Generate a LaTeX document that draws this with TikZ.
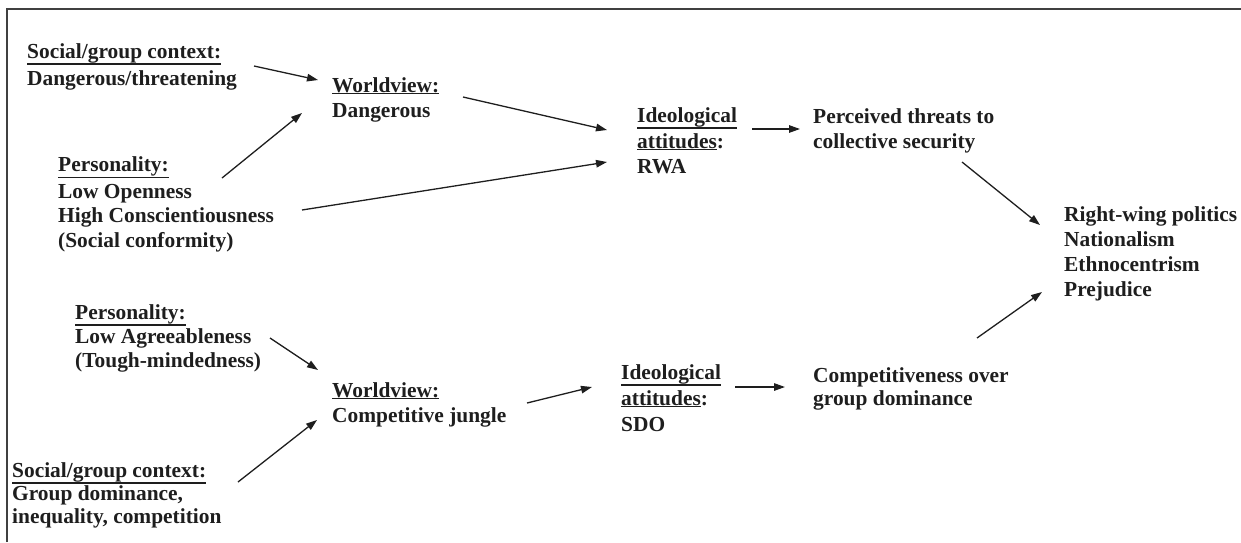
\documentclass[tikz,border=0pt]{standalone}
\usepackage{fontspec}
\setmainfont{Liberation Serif}
\usetikzlibrary{arrows.meta,calc}
\definecolor{ink}{HTML}{1E1E1E}
\newcommand\myuline[1]{\leavevmode\vtop{\hbox{#1}\kern0.6pt\hrule height 1.5pt}}
\begin{document}
\begin{tikzpicture}[x=1pt,y=-1pt,
  lbl/.style={anchor=base west,inner sep=0pt,align=left,text=ink,
    font=\fontsize{21.4}{24}\selectfont\bfseries},
  arr/.style={draw=ink,line width=1.3pt,-{Triangle[length=11pt,width=7.5pt]}},
  frame/.style={draw=ink!85,line width=1.6pt}]
\useasboundingbox (0,0) rectangle (1241,542);
\coordinate (fb) at (7,542);
\coordinate (fc) at (7,9);
\coordinate (fr) at (1241,9);
\draw[frame] (fb) -- (fc) -- (fr);

% nodes are placed at the baseline of their last line
\node[lbl] (ctxA) at (27,85) {\myuline{Social/group context:}\\[3pt]Dangerous/threatening};
\node[lbl] (perA) at (58,247) {\myuline{Personality:}\\[2.5pt]Low Openness\\[0.5pt]High Conscientiousness\\[0.5pt](Social conformity)};
\node[lbl] (wvA) at (332,117) {\myuline{Worldview:}\\[1pt]Dangerous};
\node[lbl] (ideoA) at (637,173) {\myuline{Ideological}\\[2pt]\myuline{attitudes}:\\[1pt]RWA};
\node[lbl] (perc) at (813,148) {Perceived threats to\\[1pt]collective security};
\node[lbl] (out) at (1064,296) {Right-wing politics\\[1pt]Nationalism\\[1pt]Ethnocentrism\\[1pt]Prejudice};
\node[lbl] (perB) at (75,367) {\myuline{Personality:}\\Low Agreeableness\\(Tough-mindedness)};
\node[lbl] (wvB) at (332,422) {\myuline{Worldview:}\\[1pt]Competitive jungle};
\node[lbl] (ideoB) at (621,431) {\myuline{Ideological}\\[2pt]\myuline{attitudes}:\\[2pt]SDO};
\node[lbl] (comp) at (813,405) {Competitiveness over\\[-1pt]group dominance};
\node[lbl] (ctxB) at (12,523) {\myuline{Social/group context:}\\[-1pt]Group dominance,\\[-1pt]inequality, competition};

\draw[arr] ($(ctxA.base west)+(227,-19)$) -- ($(wvA.base west)+(-14,-37)$);
\draw[arr] ($(perA.base west)+(164,-69)$) -- ($(wvA.base west)+(-30,-4)$);
\draw[arr] ($(wvA.base west)+(131,-20)$) -- ($(ideoA.base west)+(-30,-43)$);
\draw[arr] ($(perA.base west)+(244,-37)$) -- ($(ideoA.base west)+(-30,-11)$);
\draw[arr] ($(ideoA.base west)+(115,-44)$) -- ($(perc.base west)+(-13,-19)$);
\draw[arr] ($(perc.base west)+(149,14)$) -- ($(out.base west)+(-24,-71)$);
\draw[arr] ($(perB.base west)+(195,-29)$) -- ($(wvB.base west)+(-14,-52)$);
\draw[arr] ($(ctxB.base west)+(226,-41)$) -- ($(wvB.base west)+(-15,-2)$);
\draw[arr] ($(wvB.base west)+(195,-19)$) -- ($(ideoB.base west)+(-29,-44)$);
\draw[arr] ($(ideoB.base west)+(114,-44)$) -- ($(comp.base west)+(-28,-18)$);
\draw[arr] ($(comp.base west)+(164,-67)$) -- ($(out.base west)+(-22,-4)$);
\end{tikzpicture}
\end{document}
